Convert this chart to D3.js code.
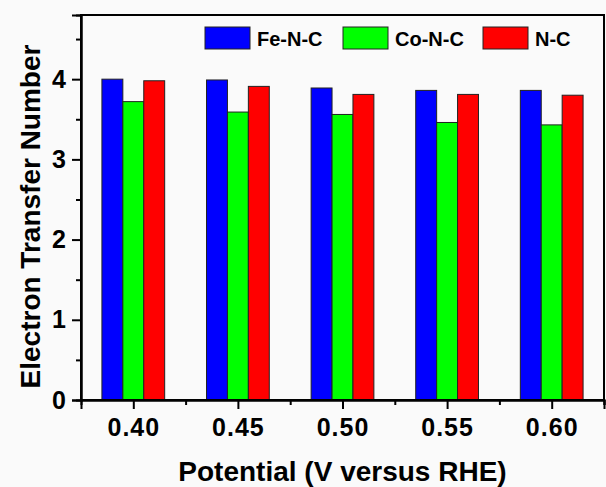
<!DOCTYPE html>
<html>
  <head>
    <style>
      body { margin: 0; background: #fafafa; }
      text { font-family: "Liberation Sans", Arial, sans-serif; font-weight: bold; fill: #000; }
    </style>
  </head>
  <body>
    <script src="https://cdn.jsdelivr.net/npm/d3@7"></script>
    <script>
      var potentials = [0.40, 0.45, 0.50, 0.55, 0.60];
      var seriesNames = ["Fe-N-C", "Co-N-C", "N-C"];
      var feValues = [4.00, 3.99, 3.89, 3.86, 3.86];
      var coValues = [3.72, 3.59, 3.56, 3.46, 3.43];
      var ncValues = [3.98, 3.91, 3.81, 3.81, 3.80];
      var colors = ["#0000ff", "#00ff00", "#ff0000"];
      var xTickLabels = ["0.40", "0.45", "0.50", "0.55", "0.60"];
      var yTicks = [0, 1, 2, 3, 4];

      var width = 606, height = 487;
      var margin = { top: 15, right: 2, bottom: 87, left: 81 };

      var svg = d3.select("body").append("svg")
          .attr("width", width)
          .attr("height", height);

      var x = d3.scaleLinear()
          .domain([0.375, 0.625])
          .range([margin.left, width - margin.right]);

      var y = d3.scaleLinear()
          .domain([0, 4.8])
          .range([height - margin.bottom, margin.top]);

      // one band per series inside each group, group is 0.03 V wide
      var sub = d3.scaleBand()
          .domain(seriesNames)
          .range([-0.015, 0.015]);

      var allValues = [feValues, coValues, ncValues];

      // bars
      var barG = svg.append("g");
      seriesNames.forEach(function(name, si) {
        barG.selectAll(".bar" + si)
          .data(potentials)
          .enter()
          .append("rect")
          .attr("x", function(d) { return x(d + sub(name)); })
          .attr("width", function(d) { return x(d + sub(name) + sub.bandwidth()) - x(d + sub(name)); })
          .attr("y", function(d, i) { return y(allValues[si][i]); })
          .attr("height", function(d, i) { return y(0) - y(allValues[si][i]); })
          .style("fill", colors[si])
          .attr("stroke", "#222")
          .attr("stroke-width", 1);
      });

      // frame
      svg.append("rect")
          .attr("x", x(0.375))
          .attr("y", y(4.8))
          .attr("width", x(0.625) - x(0.375))
          .attr("height", y(0) - y(4.8))
          .attr("fill", "none")
          .attr("stroke", "#000")
          .attr("stroke-width", 2);

      // y axis
      var yAxis = svg.append("g")
          .attr("transform", "translate(" + x(0.375) + ",0)")
          .call(d3.axisLeft(y).tickValues(yTicks).tickFormat(d3.format("d")).tickSize(9).tickPadding(6));
      yAxis.append("g")
          .call(d3.axisLeft(y).tickValues([0.5, 1.5, 2.5, 3.5, 4.5]).tickFormat("").tickSize(5));
      yAxis.selectAll("path.domain").attr("stroke-width", 2);
      yAxis.selectAll(".tick line").attr("stroke-width", 2);
      yAxis.selectAll(".tick text").style("font-size", "25px");

      // x axis
      var xAxis = svg.append("g")
          .attr("transform", "translate(0," + y(0) + ")")
          .call(d3.axisBottom(x).tickValues(potentials).tickFormat(function(d, i) { return xTickLabels[i]; }).tickSize(9).tickPadding(9));
      xAxis.append("g")
          .call(d3.axisBottom(x).tickValues([0.425, 0.475, 0.525, 0.575, 0.625]).tickFormat("").tickSize(5));
      xAxis.selectAll("path.domain").attr("stroke-width", 2);
      xAxis.selectAll(".tick line").attr("stroke-width", 2);
      xAxis.selectAll(".tick text")
          .style("font-size", "25px")
          .style("letter-spacing", "1px");

      // axis titles
      svg.append("text")
          .attr("x", (x(0.375) + x(0.625)) / 2)
          .attr("y", 481)
          .attr("text-anchor", "middle")
          .style("font-size", "28px")
          .text("Potential (V versus RHE)");

      svg.append("text")
          .attr("transform", "translate(40," + ((y(0) + y(4.8)) / 2 + 9) + ") rotate(-90)")
          .attr("text-anchor", "middle")
          .style("font-size", "28px")
          .text("Electron Transfer Number");

      // legend
      var legendX = [205, 343, 483];
      var legend = svg.append("g");
      seriesNames.forEach(function(name, i) {
        legend.append("rect")
          .attr("x", legendX[i])
          .attr("y", 27)
          .attr("width", 45)
          .attr("height", 22)
          .style("fill", colors[i])
          .attr("stroke", "#222")
          .attr("stroke-width", 1);
        legend.append("text")
          .attr("x", legendX[i] + 52)
          .attr("y", 46)
          .style("font-size", "20px")
          .text(name);
      });
    </script>
  </body>
</html>
